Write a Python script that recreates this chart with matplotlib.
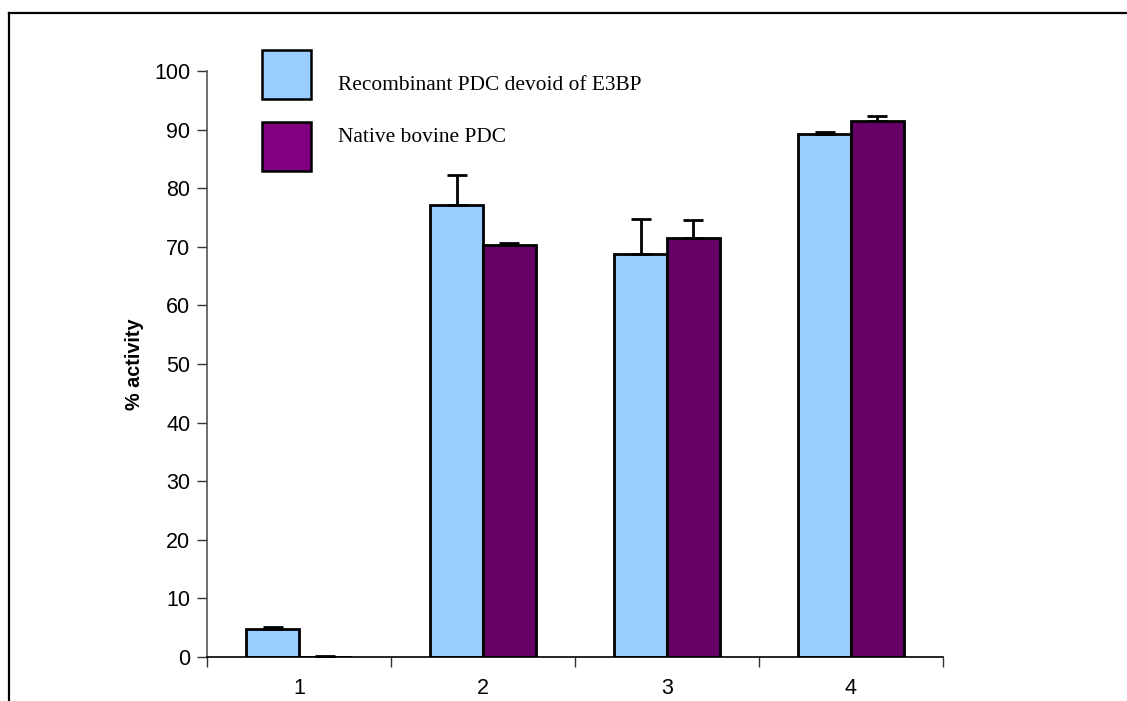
import matplotlib
matplotlib.use("Agg")
import matplotlib.pyplot as plt
import numpy as np
from matplotlib.patches import Rectangle
from matplotlib.lines import Line2D

categories = ["1", "2", "3", "4"]
recombinant = [4.8, 77.2, 68.7, 89.2]
recombinant_err = [0.3, 5.0, 6.1, 0.4]
native = [0.0, 70.3, 71.5, 91.5]
native_err = [0.1, 0.3, 3.0, 0.9]
series_names = ["Recombinant PDC devoid of E3BP", "Native bovine PDC"]
yticks = [0, 10, 20, 30, 40, 50, 60, 70, 80, 90, 100]

blue = "#99CCFF"
purple_bar = "#660066"
purple_leg = "#800080"

W, H = 1127, 701
fig = plt.figure(figsize=(W / 100, H / 100), dpi=100)
ax = fig.add_axes([207 / W, 1 - 657 / H, (943 - 207) / W, (657 - 71) / H])

x = np.arange(len(categories)) + 0.5
bw = 0.288
ax.bar(x - bw / 2, recombinant, bw, color=blue, edgecolor="black", linewidth=2, zorder=2)
ax.bar(x + bw / 2, native, bw, color=purple_bar, edgecolor="black", linewidth=2, zorder=2)
ax.errorbar(x - bw / 2, recombinant, yerr=[np.zeros(4), recombinant_err], fmt="none",
            ecolor="black", elinewidth=2, capsize=7, capthick=2, zorder=3)
ax.errorbar(x + bw / 2, native, yerr=[np.zeros(4), native_err], fmt="none",
            ecolor="black", elinewidth=2, capsize=7, capthick=2, zorder=3)

ax.set_xlim(0, 4)
ax.set_ylim(0, 100)
ax.set_yticks(yticks)
ax.set_yticklabels([str(v) for v in yticks], fontsize=15.5, family="Liberation Sans")
ax.set_xticks([0, 1, 2, 3, 4])
ax.set_xticklabels([])
ax.set_xticks(x, minor=True)
ax.set_xticklabels(categories, minor=True, fontsize=15.5, family="Liberation Sans")
ax.tick_params(axis="x", which="minor", length=0, pad=15)
ax.tick_params(axis="x", which="major", length=7, width=1, color="#333333", direction="out")
ax.tick_params(axis="y", length=7, width=1, color="#333333", direction="out", pad=5)
for s in ["top", "right"]:
    ax.spines[s].set_visible(False)
ax.spines["left"].set_color("#555555")
ax.spines["bottom"].set_color("black")
ax.spines["left"].set_linewidth(1.2)
ax.spines["bottom"].set_linewidth(1.2)
ax.set_ylabel("% activity", fontsize=14.3, fontweight="bold", family="Liberation Sans", labelpad=7)

# legend drawn in figure pixels
def fx(px):
    return px / W
def fy(py):
    return 1 - py / H
fig.patches.append(Rectangle((fx(262), fy(99)), fx(311) - fx(262), fy(50) - fy(99),
                             transform=fig.transFigure, facecolor=blue, edgecolor="black", linewidth=1.8))
fig.patches.append(Rectangle((fx(262), fy(171)), fx(311) - fx(262), fy(122) - fy(171),
                             transform=fig.transFigure, facecolor=purple_leg, edgecolor="black", linewidth=1.8))
fig.text(fx(338), fy(86), series_names[0], fontsize=15.4, family="Liberation Serif", va="center", ha="left")
fig.text(fx(338), fy(137), series_names[1], fontsize=15.4, family="Liberation Serif", va="center", ha="left")

# figure border (top and left)
fig.lines.append(Line2D([fx(9), fx(9)], [fy(13), 0], transform=fig.transFigure, color="black", linewidth=1.6))
fig.lines.append(Line2D([fx(9), 1], [fy(13), fy(13)], transform=fig.transFigure, color="black", linewidth=1.6))

fig.savefig("out.png", dpi=100)
